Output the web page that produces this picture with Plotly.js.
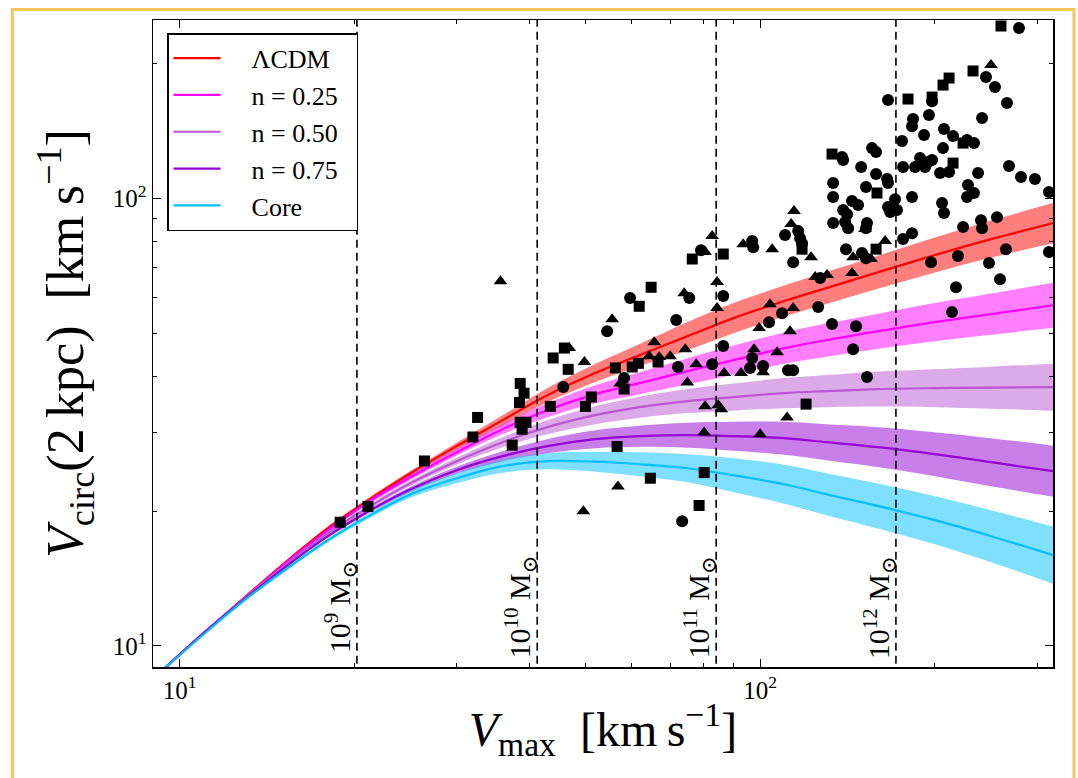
<!DOCTYPE html>
<html>
<head>
<meta charset="utf-8">
<script src="https://cdn.plot.ly/plotly-3.0.1.min.js"></script>
<style>html,body{margin:0;padding:0;background:#fff;}#chart{width:1078px;height:778px;}</style>
</head>
<body>
<div id="chart"></div>
<script>
// ---- model curves (Vmax grid, Vcirc(2kpc) centre / band limits) ----
const xGrid = [9.3, 11, 13, 15.5, 18, 21, 25, 30, 36, 43, 52, 62, 75, 90, 110, 130, 160, 200, 250, 320];

const lcdmMid = [8.78, 10.68, 12.91, 15.70, 18.33, 21.06, 24.32, 27.95, 31.95, 36.33, 40.70, 44.65, 49.23, 54.01, 58.96, 63.03, 68.44, 74.70, 81.10, 88.07];
const lcdmHi  = [8.80, 10.71, 12.98, 15.78, 18.47, 21.28, 24.64, 28.46, 32.78, 37.66, 42.63, 47.25, 52.91, 58.35, 63.86, 68.44, 74.51, 81.74, 89.21, 97.63];
const lcdmLo  = [8.76, 10.65, 12.84, 15.62, 18.19, 20.84, 24.01, 27.45, 31.14, 35.04, 38.86, 42.19, 45.80, 49.99, 54.44, 58.04, 62.86, 68.26, 73.73, 79.45];

const n025Mid = [8.78, 10.68, 12.85, 15.62, 18.14, 20.84, 23.84, 27.10, 30.50, 33.63, 36.52, 38.65, 41.11, 43.51, 46.28, 48.23, 50.51, 52.90, 55.13, 57.72];
const n025Hi  = [8.80, 10.71, 12.92, 15.70, 18.28, 21.06, 24.15, 27.59, 31.30, 34.86, 38.25, 40.90, 43.96, 46.89, 50.13, 52.51, 55.27, 58.34, 61.27, 64.81];
const n025Lo  = [8.76, 10.65, 12.78, 15.54, 18.00, 20.63, 23.53, 26.62, 29.72, 32.44, 34.87, 36.52, 38.45, 40.38, 42.73, 44.30, 46.16, 47.97, 49.60, 51.41];

const n050Mid = [8.78, 10.68, 12.85, 15.46, 17.86, 20.31, 23.11, 25.87, 28.53, 30.82, 32.78, 34.16, 35.24, 35.97, 36.72, 37.10, 37.49, 37.67, 37.77, 37.86];
const n050Hi  = [8.80, 10.71, 12.92, 15.54, 18.00, 20.52, 23.41, 26.34, 29.27, 31.95, 34.33, 36.06, 37.49, 38.56, 39.67, 40.29, 41.03, 41.54, 42.08, 42.73];
const n050Lo  = [8.76, 10.65, 12.78, 15.38, 17.72, 20.10, 22.81, 25.41, 27.80, 29.73, 31.30, 32.36, 33.13, 33.55, 33.99, 34.16, 34.26, 34.16, 33.90, 33.54];

const n075Mid = [8.78, 10.68, 12.79, 15.30, 17.59, 19.89, 22.40, 24.70, 26.55, 27.95, 28.97, 29.42, 29.57, 29.42, 29.12, 28.53, 27.80, 26.82, 25.74, 24.57];
const n075Hi  = [8.80, 10.71, 12.86, 15.38, 17.73, 20.10, 22.69, 25.15, 27.24, 28.98, 30.34, 31.05, 31.54, 31.70, 31.70, 31.30, 30.82, 30.04, 29.13, 28.02];
const n075Lo  = [8.76, 10.65, 12.72, 15.22, 17.45, 19.69, 22.11, 24.26, 25.87, 26.96, 27.66, 27.87, 27.73, 27.30, 26.75, 26.00, 25.08, 23.95, 22.75, 21.54];

const coreMid = [8.78, 10.62, 12.72, 15.07, 17.23, 19.40, 21.83, 23.70, 25.22, 25.87, 25.80, 25.47, 24.95, 24.07, 22.98, 21.83, 20.53, 19.10, 17.59, 15.95];
const coreHi  = [8.80, 10.65, 12.79, 15.19, 17.41, 19.65, 22.23, 24.32, 26.08, 26.96, 27.16, 27.09, 26.82, 26.27, 25.41, 24.32, 23.05, 21.61, 20.11, 18.47];
const coreLo  = [8.76, 10.59, 12.65, 14.95, 17.05, 19.15, 21.44, 23.10, 24.39, 24.82, 24.51, 23.94, 23.21, 22.05, 20.78, 19.59, 18.28, 16.88, 15.39, 13.77];

const modelNames = ['\u039BCDM', 'n = 0.25', 'n = 0.50', 'n = 0.75', 'Core'];

// ---- observed galaxies ----
const sqX = [18.9, 21.1, 26.4, 32.0, 32.6, 37.4, 38.6, 39.5, 38.9, 38.6, 39.2, 38.5, 43.5, 44.0, 46.0, 46.7, 50.0, 51.2, 56.3, 58.3, 60.2, 61.7, 61.9, 64.9, 66.7, 56.7, 64.7, 76.4, 86.4, 80.1, 78.5, 120.0, 118.1, 133.0, 159.0, 158.4, 179.8, 197.8, 206.6, 211.6, 223.7, 215.0, 232.7, 260.0];
const sqY = [18.9, 20.5, 25.9, 29.3, 32.4, 28.1, 31.6, 31.6, 30.5, 38.6, 36.7, 35.0, 34.3, 44.0, 46.3, 41.5, 34.3, 36.0, 41.8, 37.5, 42.0, 42.8, 57.4, 63.3, 43.1, 27.9, 23.7, 73.2, 75.1, 24.4, 20.6, 34.7, 77.0, 125.6, 102.8, 77.0, 166.7, 168.4, 179.1, 185.7, 132.9, 119.9, 192.6, 242.7];

const triX = [35.7, 46.9, 49.8, 55.6, 49.6, 56.9, 57.4, 65.7, 64.4, 67.0, 70.0, 74.0, 74.3, 74.9, 77.6, 80.4, 84.7, 85.7, 80.1, 80.4, 82.7, 84.3, 84.3, 86.7, 92.7, 93.5, 97.6, 101.2, 107.0, 111.3, 100.0, 99.6, 104.0, 114.0, 112.6, 104.9, 114.4, 113.1, 122.4, 124.4, 130.4, 144.0, 144.6, 151.6, 155.3, 164.2, 249.9];
const triY = [65.3, 46.3, 43.1, 53.7, 20.0, 22.7, 38.6, 47.7, 44.4, 44.2, 44.4, 61.4, 46.0, 38.8, 42.6, 34.3, 34.5, 33.8, 30.0, 75.9, 82.4, 65.0, 56.9, 40.7, 40.7, 79.0, 46.0, 40.9, 45.3, 32.4, 29.7, 51.3, 58.0, 56.9, 50.5, 77.0, 93.7, 87.6, 73.9, 66.7, 67.4, 68.1, 73.9, 85.4, 73.2, 80.3, 198.5];

const cirX = [45.8, 54.5, 58.3, 59.7, 71.7, 72.2, 75.5, 73.4, 79.1, 86.4,
              82.7, 86.4, 96.1, 96.9, 101.2, 111.7, 114.0, 103.6, 109.1, 125.9,
              96.9, 97.3, 114.0, 110.4, 116.3, 117.2, 118.1, 126.9, 133.0, 146.3,
              144.6, 152.8, 138.4, 139.0, 149.3, 133.6, 133.6, 155.9, 158.4, 158.4,
              152.2, 165.5, 166.1, 144.0, 147.5, 139.0, 141.2, 140.1, 141.8, 133.6,
              152.8, 152.2, 166.1, 167.5, 172.1, 170.8, 182.7, 140.6, 149.8, 152.2,
              166.1, 175.6, 183.4, 182.7, 195.4, 197.8, 176.3, 184.9, 188.6, 192.4,
              194.7, 197.8, 191.6, 207.4, 215.0, 206.6, 227.2, 233.6, 204.2, 211.6,
              176.3, 182.7, 205.8, 207.4, 237.4, 228.1, 227.2, 233.6, 223.7, 240.2,
              241.2, 255.9, 197.0, 219.2, 217.5, 214.1, 247.9, 259.0, 265.2, 268.4,
              281.5, 297.5, 314.5, 314.5, 241.2, 266.3, 253.9, 245.0, 279.3];
const cirY = [37.9, 50.5, 39.7, 59.9, 53.5, 42.0, 59.9, 19.0, 76.6, 60.5,
              42.6, 46.8, 41.8, 44.0, 42.2, 41.3, 41.3, 52.9, 55.4, 57.2,
              80.3, 77.8, 72.0, 82.8, 84.5, 81.5, 79.4, 66.4, 52.4, 51.8,
              46.0, 39.9, 123.7, 121.8, 117.5, 108.2, 100.7, 129.5, 126.9, 113.4,
              106.0, 110.5, 108.2, 98.6, 96.6, 94.2, 92.2, 88.5, 85.8, 88.1,
              88.1, 85.8, 95.6, 93.2, 94.2, 99.6, 100.7, 77.0, 75.5, 73.5,
              165.8, 134.3, 150.4, 145.0, 153.5, 164.9, 117.5, 117.5, 123.1, 117.5,
              120.5, 121.8, 138.5, 142.8, 137.8, 129.5, 135.0, 132.9, 113.9, 114.5,
              81.1, 83.6, 97.6, 92.7, 113.9, 107.1, 100.7, 102.8, 86.3, 89.4,
              85.8, 90.8, 72.0, 74.3, 63.3, 55.7, 71.7, 66.0, 77.0, 118.1,
              111.6, 110.5, 103.3, 75.9, 151.2, 163.3, 177.3, 186.7, 240.2];

// ---- halo-mass reference lines ----
const massLineX = [20.2, 41.3, 84.0, 171.4];
const massLabels = ['10<sup>9</sup> M<sub>\u2299</sub>', '10<sup>10</sup> M<sub>\u2299</sub>', '10<sup>11</sup> M<sub>\u2299</sub>', '10<sup>12</sup> M<sub>\u2299</sub>'];
const massLabelY = 12.2;

// ---- ticks ----
const xTickVals = [10, 100];
const xTickText = ['10<sup>1</sup>', '10<sup>2</sup>'];
const xMinorVals = [20, 30, 40, 50, 60, 70, 80, 90, 200, 300];
const yTickVals = [10, 100];
const yTickText = ['10<sup>1</sup>', '10<sup>2</sup>'];
const yMinorVals = [20, 30, 40, 50, 60, 70, 80, 90, 200];

const FONT = "'Liberation Serif', 'DejaVu Serif', serif";
const PAD_L = '\u2002\u2002', PAD_R = '\u2002';

const models = [
  {name: modelNames[0], mid: lcdmMid, lo: lcdmLo, hi: lcdmHi, line: 'rgb(255,0,0)',   band: 'rgba(255,0,0,0.5)'},
  {name: modelNames[1], mid: n025Mid, lo: n025Lo, hi: n025Hi, line: 'rgb(255,0,255)', band: 'rgba(255,0,255,0.5)'},
  {name: modelNames[2], mid: n050Mid, lo: n050Lo, hi: n050Hi, line: 'rgb(186,85,211)', band: 'rgba(186,85,211,0.5)'},
  {name: modelNames[3], mid: n075Mid, lo: n075Lo, hi: n075Hi, line: 'rgb(148,0,211)', band: 'rgba(148,0,211,0.5)'},
  {name: modelNames[4], mid: coreMid, lo: coreLo, hi: coreHi, line: 'rgb(0,191,255)', band: 'rgba(0,191,255,0.5)'}
];

const traces = [];
models.forEach((m, i) => {
  traces.push({x: xGrid, y: m.lo, mode: 'lines', line: {width: 0, shape: 'spline', color: m.band},
               showlegend: false, hoverinfo: 'skip', legendgroup: 'g' + i});
  traces.push({x: xGrid, y: m.hi, mode: 'lines', line: {width: 0, shape: 'spline', color: m.band},
               fill: 'tonexty', fillcolor: m.band, showlegend: false, hoverinfo: 'skip', legendgroup: 'g' + i});
  traces.push({x: xGrid, y: m.mid, mode: 'lines', name: PAD_L + m.name + PAD_R, legendgroup: 'g' + i,
               line: {width: 2.2, shape: 'spline', color: m.line}});
});

massLineX.forEach(v => {
  traces.push({x: [v, v], y: [5, 400], mode: 'lines', showlegend: false, hoverinfo: 'skip',
               line: {color: 'black', width: 1.6, dash: '8px,5px'}});
});

traces.push({x: sqX, y: sqY, mode: 'markers', showlegend: false,
             marker: {symbol: 'square', size: 11, color: 'black', line: {width: 0}}});
traces.push({x: triX, y: triY, mode: 'markers', showlegend: false,
             marker: {symbol: 'triangle-up', size: 12, color: 'black', line: {width: 0}}});
traces.push({x: cirX, y: cirY, mode: 'markers', showlegend: false,
             marker: {symbol: 'circle', size: 12, color: 'black', line: {width: 0}}});

const annotations = massLineX.map((v, i) => ({
  x: Math.log10(v), y: Math.log10(massLabelY), xref: 'x', yref: 'y',
  text: massLabels[i], showarrow: false, textangle: -90,
  xanchor: 'center', yanchor: 'middle', xshift: -17,
  font: {family: FONT, size: 30, color: 'black'}
}));

const axisCommon = {
  type: 'log', showgrid: false, zeroline: false,
  showline: true, linecolor: 'black', linewidth: 1.5, mirror: 'allticks',
  ticks: 'inside', ticklen: 8, tickwidth: 1, tickcolor: 'black',
  tickmode: 'array',
  tickfont: {family: FONT, size: 25, color: 'black'}
};

const layout = {
  width: 1078, height: 778,
  margin: {l: 153, r: 25, t: 20, b: 111},
  paper_bgcolor: 'white', plot_bgcolor: 'white',
  font: {family: FONT, color: 'black'},
  xaxis: Object.assign({}, axisCommon, {
    range: [0.954, 2.5046],
    tickvals: xTickVals, ticktext: xTickText,
    minor: {tickmode: 'array', tickvals: xMinorVals, ticks: 'inside', ticklen: 4, tickwidth: 1, tickcolor: 'black'},
    title: {text: '<i>V</i><sub>max</sub>\u2002[km\u2009s<sup>\u22121</sup>]', font: {family: FONT, size: 48, color: 'black'}, standoff: 10}
  }),
  yaxis: Object.assign({}, axisCommon, {
    range: [0.953, 2.3985],
    tickvals: yTickVals, ticktext: yTickText,
    minor: {tickmode: 'array', tickvals: yMinorVals, ticks: 'inside', ticklen: 4, tickwidth: 1, tickcolor: 'black'},
    title: {text: '<i>V</i><sub>circ</sub>(2\u2009kpc)\u2002[km\u2009s<sup>\u22121</sup>]', font: {family: FONT, size: 52, color: 'black'}, standoff: 12}
  }),
  legend: {
    x: 0.0156, y: 0.9795, xanchor: 'left', yanchor: 'top',
    traceorder: 'normal', itemwidth: 47, tracegroupgap: 2,
    bgcolor: 'white', bordercolor: 'black', borderwidth: 1.5,
    font: {family: FONT, size: 26, color: 'black'}
  },
  annotations: annotations,
  shapes: [{
    type: 'rect', xref: 'paper', yref: 'paper',
    x0: -0.1563, x1: 1.0233, y0: -0.3, y1: 1.0162,
    line: {color: '#F7C55B', width: 3}, layer: 'above'
  }]
};

Plotly.newPlot('chart', traces, layout, {displayModeBar: false, staticPlot: true});
</script>
</body>
</html>
